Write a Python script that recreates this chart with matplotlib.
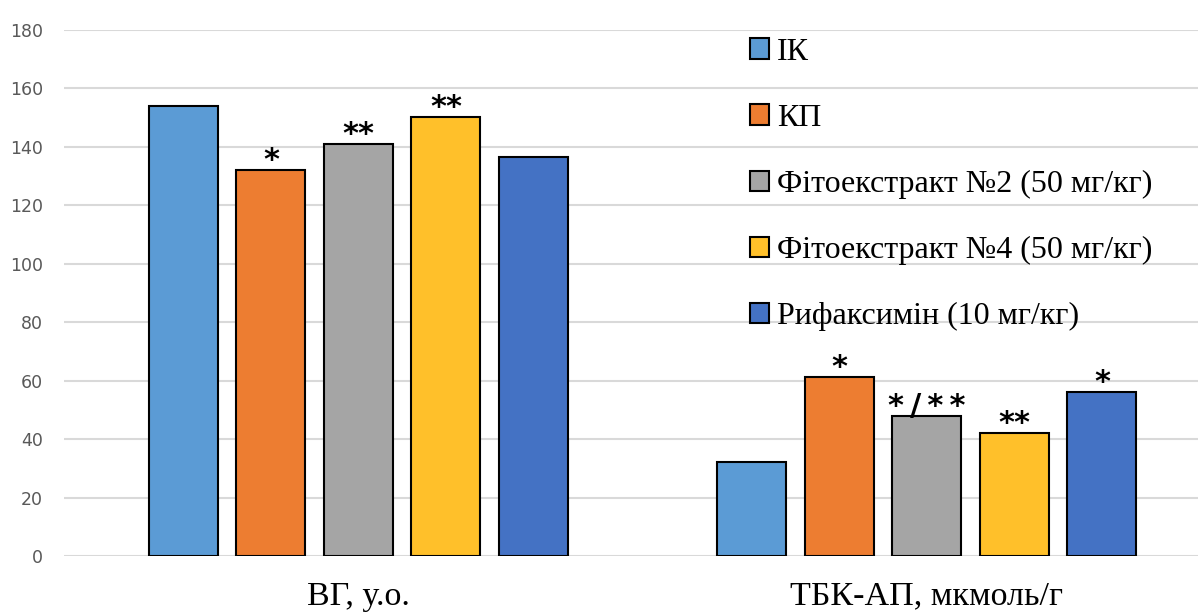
import matplotlib.pyplot as plt
import numpy as np

categories = ["ВГ, у.о.", "ТБК-АП, мкмоль/г"]
groups = ["ІК", "КП", "Фітоекстракт №2 (50 мг/кг)", "Фітоекстракт №4 (50 мг/кг)", "Рифаксимін (10 мг/кг)"]
values = [
    [154, 32.2],
    [132, 61.3],
    [141, 47.9],
    [150.2, 42.1],
    [136.5, 56.1],
]
marks = [
    ["", ""],
    ["*", "*"],
    ["**", "*\u2009/\u2009*\u2009*"],
    ["**", "**"],
    ["", "*"],
]
colors = ["#5b9bd5", "#ed7d31", "#a5a5a5", "#ffc02a", "#4472c4"]

fig = plt.figure(figsize=(11.98, 6.12), dpi=100)
ax = fig.add_axes([64 / 1198, 56 / 612, 1134 / 1198, 526 / 612])

x = np.arange(len(categories))
width = 0.1214
pitch = 0.154
for i, g in enumerate(groups):
    pos = x + (i - 2) * pitch
    ax.bar(pos, values[i], width, color=colors[i], edgecolor="black", linewidth=1.5,
           label=g, zorder=3)
    for j in range(len(categories)):
        if marks[i][j]:
            ax.text(pos[j], values[i][j] + 0.3, marks[i][j], ha="center", va="baseline",
                    fontsize=22, fontweight="bold", family="DejaVu Sans", zorder=4)

ax.set_xlim(-0.518, 1.477)
ax.set_ylim(0, 180)
ax.set_yticks(range(0, 181, 20))
ax.yaxis.grid(True, color="#d9d9d9", linewidth=1.5, zorder=0)
ax.set_axisbelow(True)
for s in ax.spines.values():
    s.set_visible(False)
ax.tick_params(axis="y", length=0, labelsize=12.5, labelcolor="#595959", pad=15)
ax.tick_params(axis="x", length=0, pad=18)
ax.set_xticks(x)
ax.set_xticklabels(categories, fontsize=24.5, family="Liberation Serif")

leg = ax.legend(loc="upper left", bbox_to_anchor=(721 / 1198, 1 - 9 / 612),
                bbox_transform=fig.transFigure, frameon=False,
                prop={"family": "Liberation Serif", "size": 23},
                handlelength=0.6, handleheight=0.6, handletextpad=0.25,
                labelspacing=1.16)

fig.savefig("out.png", dpi=100)
